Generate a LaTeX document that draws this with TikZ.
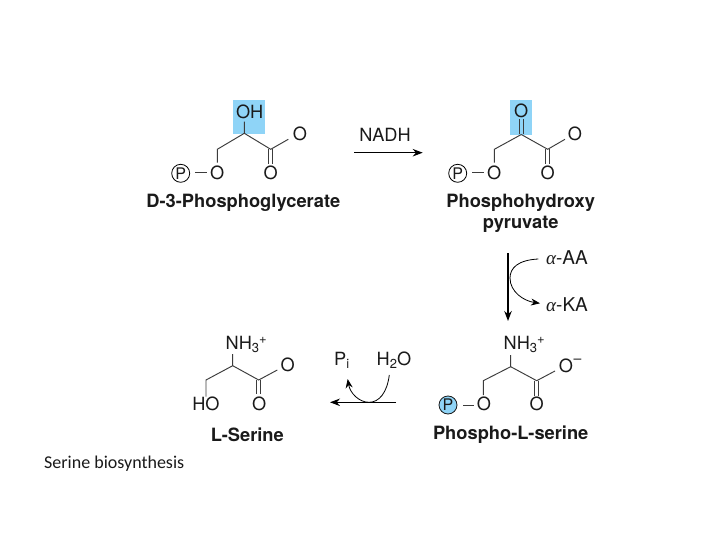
\documentclass[tikz,border=0pt]{standalone}
\usepackage{fontspec}
\newfontfamily\arialf{TeX Gyre Heros}
\newfontfamily\capfont{Carlito}
\newfontfamily\greekfont{Liberation Serif}
\setmainfont{TeX Gyre Heros}
\usetikzlibrary{arrows.meta}
\definecolor{hl}{HTML}{8FD4F7}
\definecolor{ink}{HTML}{1A1A1A}
\tikzset{
  atom/.style={inner sep=0pt,font=\arialf\fontsize{18.2}{20}\selectfont,text=ink},
  rlabel/.style={inner sep=0pt,font=\arialf\fontsize{18.2}{20}\selectfont,text=ink},
  title/.style={inner sep=0pt,font=\arialf\fontsize{18.3}{21}\selectfont\bfseries,text=ink,align=center},
  bond/.style={draw=ink!85,line width=0.95pt},
  main/.style={draw=black,line width=1.3pt,-{Stealth[length=10pt,width=7.5pt]}},
  side/.style={draw=black,line width=0.8pt,-{Stealth[length=9pt,width=7pt]}},
  circP/.style={circle,draw=black,line width=0.8pt,minimum size=18pt,inner sep=0pt,font=\arialf\fontsize{16}{16}\selectfont,text=ink},
  hlbox/.style={fill=hl,draw=none,inner sep=0pt},
}
\newcommand{\subt}[1]{\raisebox{-3pt}{\fontsize{13}{13}\selectfont #1}}
\newcommand{\supt}[1]{\raisebox{6pt}{\fontsize{13}{13}\selectfont #1}}
\begin{document}
\begin{tikzpicture}[x=1pt,y=-1pt]
\useasboundingbox[fill=white] (0,0) rectangle (720,540);
% ---- D-3-Phosphoglycerate
\node[hlbox,minimum width=31.7pt,minimum height=34pt] (boxA) at (249.2,117) {};
\node[atom] (aOH) at (249.7,111.5) {OH};
\node[atom] (aOa) at (300,133.5) {O};
\node[atom] (aOb) at (270.7,172.7) {O};
\node[atom] (aOc) at (217.3,172.7) {O};
\node[circP] (aP) at (180.7,173.3) {P};
\coordinate (a1) at (244.3,133.3);
\coordinate (a1t) at (244.3,121.7);
\coordinate (a2) at (217.3,149.3);
\coordinate (a2d) at (217.3,162.7);
\coordinate (a3) at (270.7,149.3);
\coordinate (a3d) at (270.7,164);
\coordinate (a4) at (288.3,139.3);
\coordinate (aDl) at (195,172.9);
\coordinate (aDr) at (206.7,172.9);
\draw[bond] (a1t) -- (a1) -- (a2) -- (a2d);
\draw[bond] (a1) -- (a3) -- (a4);
\draw[bond] ([xshift=-2pt]a3) -- ([xshift=-2pt]a3d);
\draw[bond] ([xshift=2pt]a3) -- ([xshift=2pt]a3d);
\draw[bond] (aDl) -- (aDr);
\node[title] (aT) at (243.3,203.3) {D-3-Phosphoglycerate};
% ---- NADH arrow
\node[rlabel] (nadh) at (385,135) {NADH};
\coordinate (n1) at (354,152.7);
\coordinate (n2) at (422.7,152.7);
\draw[main,line width=1.1pt] (n1) -- (n2);
% ---- Phosphohydroxypyruvate
\node[hlbox,minimum width=22pt,minimum height=35pt] (boxB) at (521,117.5) {};
\node[atom] (bOt) at (521.3,110.7) {O};
\node[atom] (bOa) at (575,133.5) {O};
\node[atom] (bOb) at (547.7,172.7) {O};
\node[atom] (bOc) at (494.3,172.7) {O};
\node[circP] (bP) at (457.7,173.3) {P};
\coordinate (b1) at (521.3,134.5);
\coordinate (b1t) at (521.3,119);
\coordinate (b2) at (494.3,149.3);
\coordinate (b2d) at (494.3,162.7);
\coordinate (b3) at (547.7,149.3);
\coordinate (b3d) at (547.7,164);
\coordinate (b4) at (565,139.3);
\coordinate (bDl) at (472,172.9);
\coordinate (bDr) at (483.7,172.9);
\draw[bond] (b1) -- (b2) -- (b2d);
\draw[bond] (b1) -- (b3) -- (b4);
\draw[bond] ([xshift=-2pt]b1t) -- ([xshift=-2pt]b1);
\draw[bond] ([xshift=2pt]b1t) -- ([xshift=2pt]b1);
\draw[bond] ([xshift=-2pt]b3) -- ([xshift=-2pt]b3d);
\draw[bond] ([xshift=2pt]b3) -- ([xshift=2pt]b3d);
\draw[bond] (bDl) -- (bDr);
\node[title] (bT) at (520.7,213.8) {Phosphohydroxy\\pyruvate};
% ---- Transamination arrow
\node[rlabel,anchor=west,font=\arialf\fontsize{19}{20}\selectfont] (aa) at (546,258) {{\greekfont\itshape α}-AA};
\node[rlabel,anchor=west,font=\arialf\fontsize{19}{20}\selectfont] (ka) at (546,305) {{\greekfont\itshape α}-KA};
\coordinate (t1) at (508,253.3);
\coordinate (t2) at (508,321);
\draw[main] (t1) -- (t2);
\coordinate (s1) at (538.3,259);
\coordinate (s2) at (540,303.3);
\draw[side] (s1) .. controls (518,260) and (510,268) .. (510,278) .. controls (510,292) and (524,301) .. (s2);
% ---- Phospho-L-serine
\node[atom,anchor=base west] (cN) at (503.5,349.5) {NH\subt{3}\supt{+}};
\node[atom] (cOa) at (566,365.7) {O};
\node[atom,font=\arialf\fontsize{14}{14}\selectfont] (cM) at (577.5,361) {–};
\node[atom] (cOb) at (536.7,404.3) {O};
\node[atom] (cOc) at (484,404.3) {O};
\node[circP,fill=hl,draw=ink] (cP) at (448,405) {P};
\coordinate (c1) at (510.7,366.7);
\coordinate (c1t) at (510.7,355);
\coordinate (c2) at (483.3,380.7);
\coordinate (c2d) at (483.3,395);
\coordinate (c3) at (536.7,380.7);
\coordinate (c3d) at (536.7,395.7);
\coordinate (c4) at (555,371);
\coordinate (cDl) at (463.3,405);
\coordinate (cDr) at (474,405);
\draw[bond] (c1t) -- (c1) -- (c2) -- (c2d);
\draw[bond] (c1) -- (c3) -- (c4);
\draw[bond] ([xshift=-2pt]c3) -- ([xshift=-2pt]c3d);
\draw[bond] ([xshift=2pt]c3) -- ([xshift=2pt]c3d);
\draw[bond] (cDl) -- (cDr);
\node[title] (cT) at (510.7,435) {Phospho-L-serine};
% ---- L-Serine
\node[atom,anchor=base west] (dN) at (225.5,349.5) {NH\subt{3}\supt{+}};
\node[atom] (dOa) at (287.7,365) {O};
\node[atom] (dOb) at (259.3,403.7) {O};
\node[atom] (dHO) at (206,404.3) {HO};
\coordinate (d1) at (232.7,365.7);
\coordinate (d1t) at (232.7,354);
\coordinate (d2) at (206,380);
\coordinate (d2d) at (206,396.7);
\coordinate (d3) at (258.7,380);
\coordinate (d3d) at (258.7,394.3);
\coordinate (d4) at (277.3,370);
\draw[bond] (d1t) -- (d1) -- (d2) -- (d2d);
\draw[bond] (d1) -- (d3) -- (d4);
\draw[bond] ([xshift=-2pt]d3) -- ([xshift=-2pt]d3d);
\draw[bond] ([xshift=2pt]d3) -- ([xshift=2pt]d3d);
\node[title] (dT) at (247.3,435) {L-Serine};
% ---- Hydrolysis arrow
\node[rlabel,anchor=base] (pi) at (341.7,365) {P\subt{i}};
\node[rlabel,anchor=base] (wat) at (394,365) {H\subt{2}O};
\coordinate (h1) at (396,402.3);
\coordinate (h2) at (330,402.3);
\draw[main,line width=1.1pt] (h1) -- (h2);
\coordinate (w1) at (389.3,375);
\coordinate (w2) at (347.7,379);
\draw[side] (w1) .. controls (387,393) and (379,402.3) .. (369,402.3) .. controls (359,402.3) and (350,393) .. (w2);
% ---- Caption
\node[inner sep=0pt,anchor=west,font=\capfont\fontsize{18}{20}\selectfont,text=ink] (cap) at (44,464) {Serine biosynthesis};
\end{tikzpicture}
\end{document}
